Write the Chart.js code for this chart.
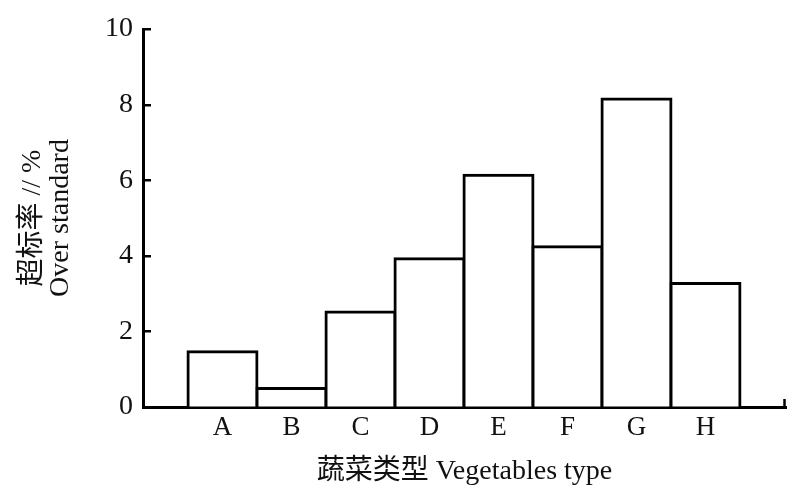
<!DOCTYPE html>
<html>
<head>
<meta charset="utf-8">
<script src="https://cdn.jsdelivr.net/npm/chart.js@4/dist/chart.umd.min.js"></script>
<style>
  html, body { margin: 0; padding: 0; background: #fff; }
  #wrap { position: relative; width: 790px; height: 489px; }
</style>
</head>
<body>
<div id="wrap"><canvas id="chart"></canvas></div>
<script>
// Vegetable types and their over-standard rate (%)
const categories = ['A', 'B', 'C', 'D', 'E', 'F', 'G', 'H'];
const overStandardRate = [1.46, 0.49, 2.51, 3.92, 6.13, 4.24, 8.15, 3.27];
const yTickValues = [0, 2, 4, 6, 8, 10];
const yAxisTitle = ['超标率 // %', 'Over standard'];
const xAxisTitle = '蔬菜类型 Vegetables type';

const FONT = "'Liberation Serif', 'Noto Sans CJK SC', serif";
const INK = '#000';

// Inward tick marks on the value axis and a short end mark on the category axis
const axisTickMarks = {
  id: 'axisTickMarks',
  afterDraw(chart) {
    const { ctx, chartArea, scales: { y } } = chart;
    ctx.save();
    ctx.strokeStyle = INK;
    ctx.lineWidth = 2.5;
    ctx.beginPath();
    y.ticks.forEach(t => {
      const py = Math.round(y.getPixelForValue(t.value)) + 0.25;
      ctx.moveTo(chartArea.left, py);
      ctx.lineTo(chartArea.left + 8, py);
    });
    ctx.moveTo(chartArea.right - 1.5, chartArea.bottom);
    ctx.lineTo(chartArea.right - 1.5, chartArea.bottom - 8);
    ctx.stroke();
    ctx.restore();
  }
};

new Chart(document.getElementById('chart'), {
  type: 'bar',
  data: {
    datasets: [{
      data: categories.map((c, i) => ({ x: i, y: overStandardRate[i] })),
      backgroundColor: '#fff',
      borderColor: INK,
      borderWidth: 3,
      inflateAmount: 1.5,
      barPercentage: 1,
      categoryPercentage: 1
    }]
  },
  options: {
    responsive: true,
    maintainAspectRatio: false,
    animation: false,
    events: [],
    layout: { padding: { left: 0, right: 4, top: 29, bottom: 0 } },
    plugins: {
      legend: { display: false },
      tooltip: { enabled: false }
    },
    scales: {
      x: {
        type: 'linear',
        offset: false,
        z: 1,
        min: -1.152,
        max: 8.167,
        afterFit(scale) { scale.height = 82; },
        afterBuildTicks(scale) {
          scale.ticks = categories.map((c, i) => ({ value: i }));
        },
        grid: { display: true, offset: false, drawOnChartArea: false, drawTicks: false },
        border: { display: true, color: INK, width: 3 },
        ticks: {
          autoSkip: false,
          maxRotation: 0,
          padding: 5,
          color: '#111',
          font: { family: FONT, size: 27 },
          callback: (v) => categories[v] ?? ''
        },
        title: {
          display: true,
          text: xAxisTitle,
          color: '#111',
          font: { family: FONT, size: 28 },
          padding: { top: 0, bottom: 1 }
        }
      },
      y: {
        z: 1,
        min: 0,
        max: 10,
        afterFit(scale) { scale.width = 143; },
        afterBuildTicks(scale) {
          scale.ticks = yTickValues.map(v => ({ value: v }));
        },
        grid: { display: true, drawOnChartArea: false, drawTicks: false },
        border: { display: true, color: INK, width: 3 },
        ticks: {
          padding: 10,
          color: '#111',
          font: { family: FONT, size: 28 },
          callback: (v) => String(v)
        },
        title: {
          display: true,
          text: yAxisTitle,
          color: '#111',
          font: { family: FONT, size: 28, lineHeight: 1.0 },
          padding: { top: 19, bottom: 0 }
        }
      }
    }
  },
  plugins: [axisTickMarks]
});
</script>
</body>
</html>
